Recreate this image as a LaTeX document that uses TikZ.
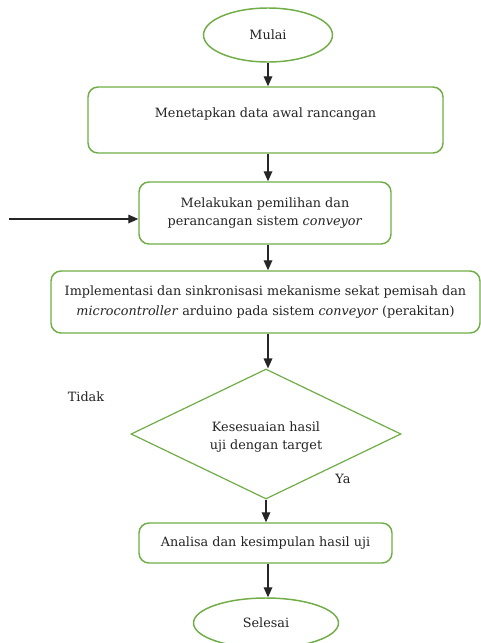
\documentclass[tikz,border=0pt]{standalone}
\usepackage{fontspec}
\setmainfont{DejaVu Serif}
\usetikzlibrary{shapes.geometric,arrows.meta}
\definecolor{gr}{RGB}{112,173,71}
\definecolor{tx}{RGB}{35,35,35}
\begin{document}
\begin{tikzpicture}[x=0.75pt,y=-0.75pt,
  font=\fontsize{9.6}{13}\selectfont, text=tx,
  term/.style={ellipse,draw=gr,line width=1.1pt,inner sep=0pt},
  proc/.style={rectangle,rounded corners=7.5pt,draw=gr,line width=1.1pt,align=center,inner sep=0pt},
  dec/.style={diamond,draw=gr,line width=0.9pt,align=center,inner sep=0pt},
  arr/.style={-{Triangle[length=7.5pt,width=6.5pt]},line width=0.9pt,draw=black!85}]
\useasboundingbox (0,0) rectangle (481,643);
\node[term,minimum width=96.75pt,minimum height=40.5pt] (mulai) at (268,35) {Mulai};
\node[proc,minimum width=266.25pt,minimum height=49.5pt] (b1) at (265.5,120) {\raisebox{4.5pt}[0.8em][0.25em]{Menetapkan data awal rancangan}};
\node[proc,minimum width=189pt,minimum height=46.5pt] (b2) at (265,213) {Melakukan pemilihan dan\\perancangan sistem \textit{conveyor}};
\node[proc,minimum width=321.75pt,minimum height=46.5pt,font=\fontsize{9.6}{15}\selectfont] (b3) at (265.5,302) {Implementasi dan sinkronisasi mekanisme sekat pemisah dan\\\textit{microcontroller} arduino pada sistem \textit{conveyor} (perakitan)};
\node[dec,minimum width=202.5pt,minimum height=97.5pt] (d) at (266,434) {};
\node (dt) at (266,437) [align=center,font=\fontsize{9.6}{13.5}\selectfont] {Kesesuaian hasil\\uji dengan target};
\node[proc,minimum width=189.75pt,minimum height=30pt] (b4) at (265.5,543) {Analisa dan kesimpulan hasil uji};
\node[term,minimum width=108.75pt,minimum height=37.5pt] (sel) at (266,623) {Selesai};
\node (tidak) at (86,397) {Tidak};
\node (ya) at (343,479) {Ya};
\coordinate (in) at (9,219);
\coordinate (ax) at (268,0);
\draw[arr] (mulai.south) -- (mulai.south |- b1.north);
\draw[arr] (b1.south -| ax) -- (b2.north -| ax);
\draw[arr] (in) -- (in -| b2.west);
\draw[arr] (b2.south -| ax) -- (b3.north -| ax);
\draw[arr] (b3.south -| ax) -- (d.north -| ax);
\draw[arr] (d.south) -- (d.south |- b4.north);
\draw[arr] (b4.south -| ax) -- (sel.north -| ax);
\end{tikzpicture}
\end{document}
